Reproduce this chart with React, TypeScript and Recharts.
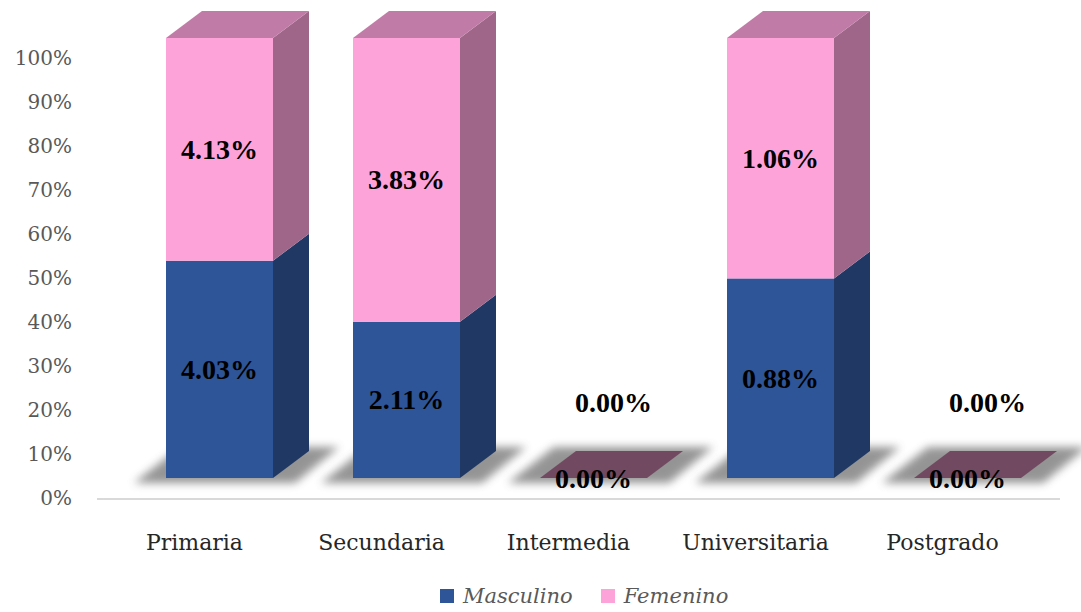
import React from 'react';
import { BarChart, Bar, XAxis, YAxis, Legend, LabelList } from 'recharts';

const categories = ['Primaria', 'Secundaria', 'Intermedia', 'Universitaria', 'Postgrado'];
const masculino = [4.03, 2.11, 0.0, 0.88, 0.0];
const femenino = [4.13, 3.83, 0.0, 1.06, 0.0];
const yTicks = [0, 0.1, 0.2, 0.3, 0.4, 0.5, 0.6, 0.7, 0.8, 0.9, 1];

const data = categories.map((name, i) => ({
  name,
  masculino: masculino[i],
  femenino: femenino[i],
}));

// 3D look: front face shifted right, depth going up-right
const SHIFT = 25;
const DX = 36;
const DY = 27;
const FONT = '"DejaVu Serif", serif';
const LABEL_FONT = '"Liberation Serif", serif';

const BLUE = '#2E5597';
const BLUE_SIDE = '#1F3864';
const PINK = '#FEA3D9';
const PINK_SIDE = '#A0668A';
const PINK_TOP = '#C07BA6';
const ZERO_TOP = '#714A61';

const pts = (p: number[][]) => p.map((q) => q.join(',')).join(' ');

function MascShape(props: any) {
  const { width, height } = props;
  const x = props.x + SHIFT;
  const y = props.y;
  const base = y + height;
  return (
    <g>
      <polygon
        points={pts([
          [x - 32, base + 5],
          [x + width + 22, base + 5],
          [x + width + DX + 30, base - DY - 4],
          [x + DX - 22, base - DY - 4],
        ])}
        fill="#7a7a7a"
        opacity={0.8}
        filter="url(#floorBlur)"
      />
      {height > 0 && (
        <>
          <rect x={x} y={y} width={width} height={height} fill={BLUE} />
          <polygon
            points={pts([
              [x + width, y],
              [x + width + DX, y - DY],
              [x + width + DX, base - DY],
              [x + width, base],
            ])}
            fill={BLUE_SIDE}
          />
        </>
      )}
    </g>
  );
}

function FemShape(props: any) {
  const { width, height } = props;
  const x = props.x + SHIFT;
  const y = props.y;
  const base = y + height;
  const top = (
    <polygon
      points={pts([
        [x, y],
        [x + width, y],
        [x + width + DX, y - DY],
        [x + DX, y - DY],
      ])}
      fill={height > 0 ? PINK_TOP : ZERO_TOP}
    />
  );
  if (!(height > 0)) return <g>{top}</g>;
  return (
    <g>
      <rect x={x} y={y} width={width} height={height} fill={PINK} />
      <polygon
        points={pts([
          [x + width, y],
          [x + width + DX, y - DY],
          [x + width + DX, base - DY],
          [x + width, base],
        ])}
        fill={PINK_SIDE}
      />
      {top}
    </g>
  );
}

function makeLabel(values: number[], upper: boolean) {
  return (props: any) => {
    const { x, y, width, height, index } = props;
    const v = values[index];
    let cx = x + SHIFT + width / 2;
    let cy = y + height / 2;
    if (upper && !(height > 0)) {
      cx += 20;
      cy = y - 76;
    }
    return (
      <text
        x={cx}
        y={cy}
        textAnchor="middle"
        dominantBaseline="central"
        fontFamily={LABEL_FONT}
        fontWeight="bold"
        fontSize={28}
        fill="#000"
      >
        {v.toFixed(2)}%
      </text>
    );
  };
}

function YTick(props: any) {
  const { y, payload } = props;
  return (
    <g>
      <text
        x={72}
        y={y + 20}
        textAnchor="end"
        dominantBaseline="central"
        fontFamily={FONT}
        fontSize={20}
        fill="#595959"
      >
        {Math.round(payload.value * 100)}%
      </text>
      {payload.value === 0 && (
        <line x1={97} x2={1060} y1={499} y2={499} stroke="#d9d9d9" strokeWidth={2} />
      )}
    </g>
  );
}

function XTick(props: any) {
  const { x, y, payload } = props;
  return (
    <text
      x={x}
      y={y + 56}
      textAnchor="middle"
      dominantBaseline="central"
      fontFamily={FONT}
      fontSize={22}
      fill="#262626"
    >
      {payload.value}
    </text>
  );
}

function LegendContent() {
  const items = [
    { label: 'Masculino', color: BLUE },
    { label: 'Femenino', color: PINK },
  ];
  return (
    <div
      style={{
        display: 'flex',
        alignItems: 'center',
        paddingLeft: 440,
        paddingTop: 12,
        fontFamily: FONT,
        fontStyle: 'italic',
        fontSize: 21,
        color: '#595959',
      }}
    >
      {items.map((it) => (
        <span key={it.label} style={{ display: 'flex', alignItems: 'center', marginRight: 28 }}>
          <span
            style={{
              display: 'inline-block',
              width: 14,
              height: 14,
              background: it.color,
              marginRight: 9,
            }}
          />
          {it.label}
        </span>
      ))}
    </div>
  );
}

export default function App() {
  return (
    <div style={{ position: 'absolute', left: 0, top: 0, width: 1081, height: 612, background: '#fff' }}>
      <BarChart
        width={1081}
        height={612}
        data={data}
        stackOffset="expand"
        barSize={107}
        margin={{ top: 38, right: 45, bottom: 0, left: 0 }}
      >
        <defs>
          <filter id="floorBlur" x="-20%" y="-50%" width="140%" height="200%">
            <feGaussianBlur stdDeviation="4" />
          </filter>
        </defs>
        <XAxis
          dataKey="name"
          axisLine={false}
          tickLine={false}
          height={94}
          tick={<XTick />}
          interval={0}
        />
        <YAxis
          width={101}
          domain={[0, 1]}
          ticks={yTicks}
          axisLine={false}
          tickLine={false}
          tick={<YTick />}
          interval={0}
        />
        <Legend
          verticalAlign="bottom"
          content={<LegendContent />}
          wrapperStyle={{ left: 0, width: 1081, height: 40, bottom: 0 }}
        />
        <Bar dataKey="masculino" name="Masculino" stackId="a" fill={BLUE} shape={<MascShape />} isAnimationActive={false}>
          <LabelList dataKey="masculino" content={makeLabel(masculino, false)} />
        </Bar>
        <Bar dataKey="femenino" name="Femenino" stackId="a" fill={PINK} shape={<FemShape />} isAnimationActive={false}>
          <LabelList dataKey="femenino" content={makeLabel(femenino, true)} />
        </Bar>
      </BarChart>
    </div>
  );
}
